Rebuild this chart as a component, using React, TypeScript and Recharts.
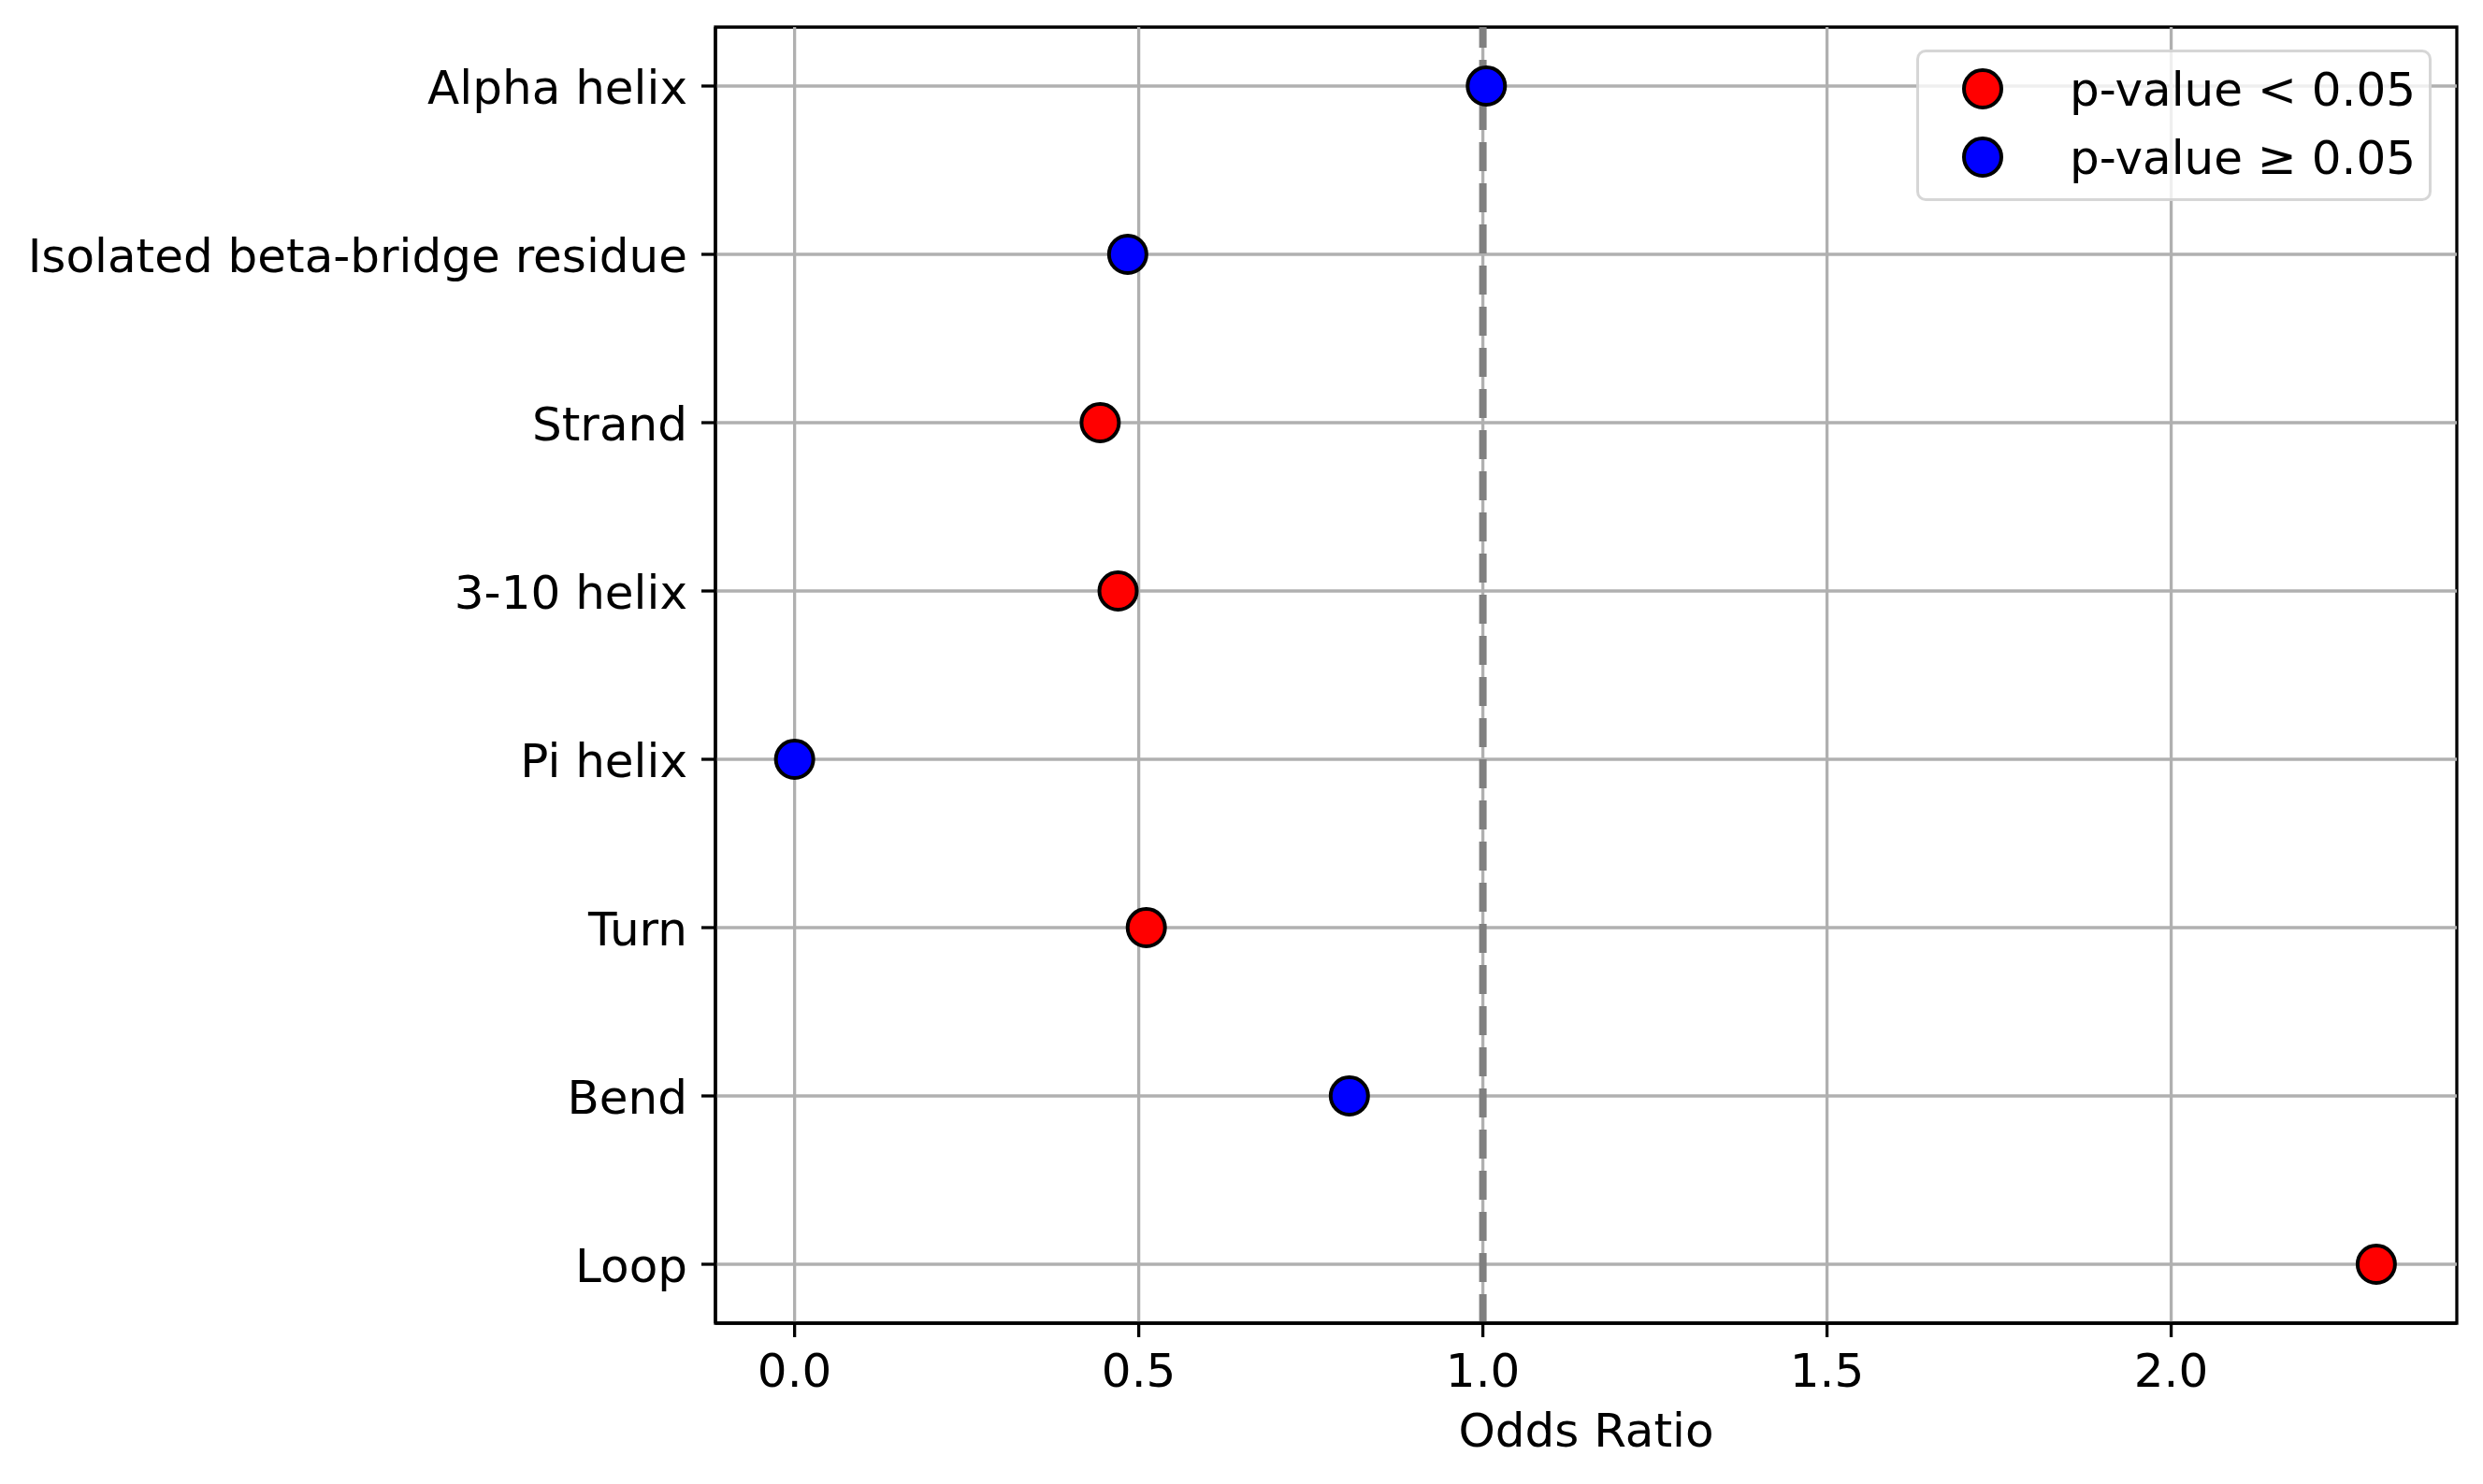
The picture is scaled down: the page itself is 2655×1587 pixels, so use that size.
import React from "react";
import {
  ScatterChart,
  Scatter,
  XAxis,
  YAxis,
  ReferenceLine,
  ReferenceArea,
  Legend,
} from "recharts";

// Values, listed top row to bottom row
const categories = [
  "Alpha helix",
  "Isolated beta-bridge residue",
  "Strand",
  "3-10 helix",
  "Pi helix",
  "Turn",
  "Bend",
  "Loop",
];
const oddsRatios = [1.005, 0.484, 0.444, 0.47, 0.0, 0.511, 0.806, 2.298];
const significant = [false, false, true, true, false, true, false, true];
const xTicks = [0, 0.5, 1, 1.5, 2];
const legendLabels = ["p-value < 0.05", "p-value \u2265 0.05"];

const FONT = "'DejaVu Sans', sans-serif";
const SIG_COLOR = "#ff0000";
const NONSIG_COLOR = "#0000ff";
const GRID = "#b0b0b0";
const LW = 3.3; // 0.8pt at 300 dpi

const rows = categories.map((name, i) => ({
  name,
  x: oddsRatios[i],
  y: categories.length - 1 - i,
  sig: significant[i],
}));
const sigRows = rows.filter((r) => r.sig);
const nonSigRows = rows.filter((r) => !r.sig);
const yTicks = rows.map((r) => r.y).sort((a, b) => a - b);

const xMin = -0.115;
const xMax = 2.415;
const yMin = -0.35;
const yMax = categories.length - 1 + 0.35;

const dot = (color: string) => (props: any) =>
  (
    <circle
      cx={props.cx}
      cy={props.cy}
      r={20}
      fill={color}
      stroke="#000"
      strokeWidth={4}
    />
  );

const XTick = (props: any) => (
  <text
    x={props.x}
    y={props.y}
    dy={38}
    textAnchor="middle"
    fontSize={50}
    fontFamily={FONT}
    fill="#000"
  >
    {Number(props.payload.value).toFixed(1)}
  </text>
);

const YTick = (props: any) => {
  const idx = categories.length - 1 - props.payload.value;
  return (
    <text
      x={props.x}
      y={props.y}
      dy={19}
      textAnchor="end"
      fontSize={50}
      fontFamily={FONT}
      fill="#000"
    >
      {categories[idx]}
    </text>
  );
};

const LegendBox = () => (
  <div
    style={{
      width: 551,
      height: 162,
      boxSizing: "border-box",
      border: `${LW}px solid rgba(204,204,204,0.8)`,
      borderRadius: 10,
      background: "rgba(255,255,255,0.8)",
    }}
  >
    <svg width={545} height={156} style={{ display: "block" }}>
      {legendLabels.map((label, i) => (
        <g key={label}>
          <circle
            cx={68}
            cy={39 + i * 73}
            r={20}
            fill={i === 0 ? SIG_COLOR : NONSIG_COLOR}
            stroke="#000"
            strokeWidth={4}
          />
          <text
            x={161}
            y={57 + i * 73}
            fontSize={50}
            fontFamily={FONT}
            fill="#000"
          >
            {label}
          </text>
        </g>
      ))}
    </svg>
  </div>
);

export default function App() {
  return (
    <div style={{ width: 2655, height: 1587, background: "#fff" }}>
      <style>{"body{margin:0}"}</style>
      <ScatterChart
        width={2655}
        height={1587}
        margin={{ top: 29, right: 28, bottom: 0, left: 0 }}
        style={{ fontFamily: FONT }}
      >
        <XAxis
          type="number"
          dataKey="x"
          domain={[xMin, xMax]}
          ticks={xTicks}
          allowDataOverflow
          height={172}
          tickSize={15}
          tickMargin={15}
          tick={<XTick />}
          axisLine={{ stroke: "#000", strokeWidth: LW }}
          tickLine={{ stroke: "#000", strokeWidth: LW }}
          label={{
            value: "Odds Ratio",
            position: "insideBottom",
            offset: 40,
            fontSize: 50,
            fill: "#000",
            fontFamily: FONT,
          }}
        />
        <YAxis
          type="number"
          dataKey="y"
          domain={[yMin, yMax]}
          ticks={yTicks}
          allowDataOverflow
          width={765}
          tickSize={15}
          tickMargin={15}
          tick={<YTick />}
          axisLine={{ stroke: "#000", strokeWidth: LW }}
          tickLine={{ stroke: "#000", strokeWidth: LW }}
        />
        <Scatter
          name={legendLabels[0]}
          data={sigRows}
          shape={dot(SIG_COLOR)}
          isAnimationActive={false}
        />
        <Scatter
          name={legendLabels[1]}
          data={nonSigRows}
          shape={dot(NONSIG_COLOR)}
          isAnimationActive={false}
        />
        {xTicks.map((t) => (
          <ReferenceLine key={`gx${t}`} x={t} stroke={GRID} strokeWidth={LW} />
        ))}
        {yTicks.map((t) => (
          <ReferenceLine key={`gy${t}`} y={t} stroke={GRID} strokeWidth={LW} />
        ))}
        <ReferenceLine
          x={1}
          stroke="#808080"
          strokeWidth={8}
          strokeDasharray="31 13"
        />
        <ReferenceArea
          x1={xMin}
          x2={xMax}
          y1={yMin}
          y2={yMax}
          fill="none"
          fillOpacity={0}
          stroke="#000"
          strokeWidth={LW}
        />
        <Legend
          layout="horizontal"
          verticalAlign="middle"
          align="center"
          content={<LegendBox />}
          wrapperStyle={{ position: "absolute", left: 2049, top: 53, width: 551 }}
        />
      </ScatterChart>
    </div>
  );
}
